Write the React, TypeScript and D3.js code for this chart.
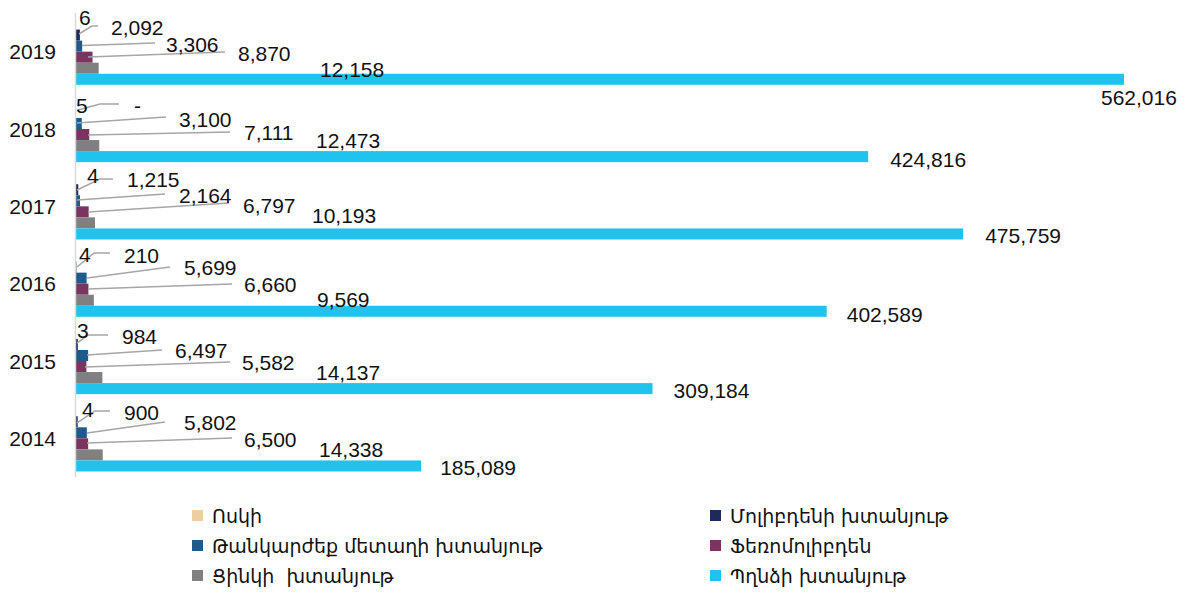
import React from "react";
import * as d3 from "d3";

const years = ["2019", "2018", "2017", "2016", "2015", "2014"];
const seriesNames = [
  "Ոսկի",
  "Մոլիբդենի խտանյութ",
  "Թանկարժեք մետաղի խտանյութ",
  "Ֆեռոմոլիբդեն",
  "Ցինկի  խտանյութ",
  "Պղնձի խտանյութ",
];
const seriesColors = ["#eecda3", "#1c2b5a", "#1e5b8c", "#7a345f", "#808080", "#1fc3ed"];

const gold = [6, 5, 4, 4, 3, 4];
const molybdenum = [2092, 0, 1215, 210, 984, 900];
const preciousMetal = [3306, 3100, 2164, 5699, 6497, 5802];
const ferromolybdenum = [8870, 7111, 6797, 6660, 5582, 6500];
const zinc = [12158, 12473, 10193, 9569, 14137, 14338];
const copper = [562016, 424816, 475759, 402589, 309184, 185089];
const seriesValues = [gold, molybdenum, preciousMetal, ferromolybdenum, zinc, copper];

// label placement (layout): [dx from axis (or bar end for last series), baseline dy from band top]
const labelLayout = [
  [[4, 12], [36, 22], [91, 39], [163, 48], [245, 64], [-22, 92]],
  [[1, 22.7], [59, 22.7], [104, 36.7], [169, 49.7], [241, 57.7], [23, 76.7]],
  [[12, 15.3], [52, 19.3], [104, 35.3], [168, 45.3], [237, 55.3], [23, 75.3]],
  [[4, 17], [49, 18], [109, 30], [169, 47], [242, 62], [21, 77]],
  [[2, 15.7], [47, 21.7], [100, 35.7], [167, 47.7], [241, 57.7], [22, 75.7]],
  [[7, 17.3], [49, 20.3], [109, 30.3], [169, 47.3], [244, 57.3], [20, 75.3]],
];
// leader lines (layout), points relative to axis x and band top
const leaderLayout = [
  [[[22, 13], [16, 13], [3, 21]], [[79, 30], [6, 32.5]], [[149, 39], [12, 44]]],
  [[[43, 13.7], [24, 13.7], [2, 19.7]], [[90, 26.7], [1, 32.7]], [[154, 41.7], [12, 44.7]]],
  [[[37, 11.3], [24, 11.3], [1, 22.3]], [[89, 26.3], [1, 32.3]], [[153, 35.3], [12, 44.3]]],
  [[[34, 8], [18, 8], [1, 22]], [[94, 22], [11, 33]], [[156, 39], [12, 44]]],
  [[[32, 12.7], [12, 12.7], [1, 20.7]], [[86, 27.7], [11, 32.7]], [[154, 39.7], [9, 44.7]]],
  [[[34, 11.3], [19, 11.3], [1, 23.3]], [[89, 22.3], [11, 33.3]], [[156, 38.3], [11, 43.3]]],
];

const W = 1185;
const H = 592;
const numFont = "'Liberation Sans', Arial, sans-serif";
const legendFont = "'DejaVu Sans', sans-serif";

export default function App() {
  const x0 = 76;
  const maxVal = d3.max(copper) as number;
  const x = d3.scaleLinear().domain([0, maxVal]).range([x0, 1124]);
  const y = d3.scaleBand<string>().domain(years).range([13, 477]).padding(0);
  const bw = y.bandwidth();
  const ys = d3
    .scaleBand<string>()
    .domain(seriesNames)
    .range([bw / 14, bw - bw / 14])
    .padding(0);
  const fmt = d3.format(",");
  const lineGen = d3.line();

  return (
    <svg
      width={W}
      height={H}
      style={{ position: "absolute", left: 0, top: 0, background: "#fff" }}
    >
      <rect x={0} y={0} width={W} height={H} fill="#fff" />
      {years.map((yr, yi) => {
        const top = y(yr) as number;
        return (
          <g key={yr}>
            {seriesNames.map((s, si) => {
              const v = seriesValues[si][yi];
              return (
                <rect
                  key={s}
                  x={x(0)}
                  y={top + (ys(s) as number)}
                  width={Math.max(0, x(v) - x(0))}
                  height={ys.bandwidth()}
                  fill={seriesColors[si]}
                />
              );
            })}
            {leaderLayout[yi].map((pts, li) => (
              <path
                key={"l" + li}
                d={lineGen(pts.map(([dx, dy]) => [x0 + dx, top + dy]) as [number, number][]) || ""}
                fill="none"
                stroke="#a6a6a6"
                strokeWidth={1.5}
              />
            ))}
            {seriesNames.map((s, si) => {
              const v = seriesValues[si][yi];
              const [dx, dy] = labelLayout[yi][si];
              const lx = si === 5 ? x(v) + dx : x0 + dx;
              return (
                <text
                  key={"t" + s}
                  x={lx - 1}
                  y={top + dy}
                  fontFamily={numFont}
                  fontSize={21}
                  fill="#111"
                >
                  {v === 0 ? "-" : fmt(v)}
                </text>
              );
            })}
            <text
              x={56}
              y={top + bw / 2}
              textAnchor="end"
              dominantBaseline="central"
              fontFamily={numFont}
              fontSize={21}
              fill="#111"
            >
              {yr}
            </text>
          </g>
        );
      })}
      <line x1={75.5} x2={75.5} y1={13} y2={477} stroke="#d9d9d9" strokeWidth={1.5} />
      {seriesNames.map((s, si) => {
        const col = si % 2;
        const row = Math.floor(si / 2);
        const sx = col === 0 ? 192 : 710;
        const tx = sx + 20;
        const cy = 516 + row * 30;
        return (
          <g key={"lg" + s}>
            <rect x={sx} y={cy - 6} width={11} height={11} fill={seriesColors[si]} />
            <text
              x={tx}
              y={cy}
              dominantBaseline="central"
              fontFamily={legendFont}
              fontSize={19}
              fill="#111"
              style={{ whiteSpace: "pre" }}
            >
              {s}
            </text>
          </g>
        );
      })}
    </svg>
  );
}
